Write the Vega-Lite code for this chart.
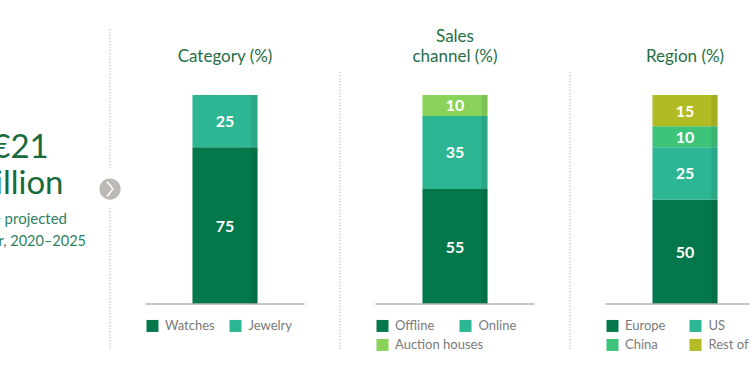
{
  "$schema": "https://vega.github.io/schema/vega-lite/v6.json",
  "width": 750,
  "height": 375,
  "autosize": {"type": "none"},
  "padding": 0,
  "background": "white",
  "config": {"view": {"stroke": null}, "font": "Lato"},
  "datasets": {
    "shares": [
      {"panel": "Category", "label": "Watches", "value": 75, "order": 0},
      {"panel": "Category", "label": "Jewelry", "value": 25, "order": 1},
      {"panel": "Sales", "label": "Offline", "value": 55, "order": 0},
      {"panel": "Sales", "label": "Online", "value": 35, "order": 1},
      {"panel": "Sales", "label": "Auction houses", "value": 10, "order": 2},
      {"panel": "Region", "label": "Europe", "value": 50, "order": 0},
      {"panel": "Region", "label": "US", "value": 25, "order": 1},
      {"panel": "Region", "label": "China", "value": 10, "order": 2},
      {"panel": "Region", "label": "Rest of world", "value": 15, "order": 3}
    ],
    "titles": [
      {"panel": "Category", "title": ["Category (%)"]},
      {"panel": "Sales", "title": ["Sales", "channel (%)"]},
      {"panel": "Region", "title": ["Region (%)"]}
    ],
    "intro": [
      {"panel": "intro", "headline": ["€21", "billion"], "note1": "Value projected", "note2": "per year, 2020–2025"}
    ]
  },
  "encoding": {
    "x": {
      "field": "panel",
      "type": "nominal",
      "scale": {"type": "band", "domain": ["intro", "Category", "Sales", "Region"], "range": [-120, 800], "paddingInner": 0, "paddingOuter": 0},
      "axis": null
    }
  },
  "layer": [
    {
      "data": {"name": "titles"},
      "transform": [{"filter": "datum.panel !== 'Category'"}],
      "mark": {"type": "rule", "stroke": "#b8b8b8", "strokeDash": [1.5, 1.5], "strokeWidth": 1},
      "encoding": {
        "x": {"field": "panel", "type": "nominal", "bandPosition": 0},
        "y": {"datum": 111, "type": "quantitative", "scale": {"domain": [0, 100], "range": [304, 95], "nice": false, "zero": false}, "axis": null},
        "y2": {"datum": -22}
      }
    },
    {
      "data": {"name": "intro"},
      "mark": {"type": "rule", "stroke": "#b8b8b8", "strokeDash": [1.5, 1.5], "strokeWidth": 1},
      "encoding": {
        "x": {"field": "panel", "type": "nominal", "bandPosition": 1},
        "y": {"datum": 131.6, "type": "quantitative", "scale": {"domain": [0, 100], "range": [304, 95], "nice": false, "zero": false}, "axis": null},
        "y2": {"datum": 64.1}
      }
    },
    {
      "data": {"name": "intro"},
      "mark": {"type": "rule", "stroke": "#b8b8b8", "strokeDash": [1.5, 1.5], "strokeWidth": 1},
      "encoding": {
        "x": {"field": "panel", "type": "nominal", "bandPosition": 1},
        "y": {"datum": 45.9, "type": "quantitative", "scale": {"domain": [0, 100], "range": [304, 95], "nice": false, "zero": false}, "axis": null},
        "y2": {"datum": -22}
      }
    },
    {
      "data": {"name": "intro"},
      "mark": {"type": "point", "shape": "circle", "filled": true, "size": 452, "color": "#bdbab6", "opacity": 1},
      "encoding": {
        "x": {"field": "panel", "type": "nominal", "bandPosition": 1},
        "y": {"datum": 55, "type": "quantitative", "scale": {"domain": [0, 100], "range": [304, 95], "nice": false, "zero": false}, "axis": null}
      }
    },
    {
      "data": {"name": "intro"},
      "mark": {"type": "point", "shape": "M -0.4 -1 L 0.4 0 L -0.4 1", "filled": false, "size": 225, "stroke": "white", "strokeWidth": 1.5, "opacity": 1},
      "encoding": {
        "x": {"field": "panel", "type": "nominal", "bandPosition": 1},
        "y": {"datum": 55, "type": "quantitative", "scale": {"domain": [0, 100], "range": [304, 95], "nice": false, "zero": false}, "axis": null}
      }
    },
    {
      "data": {"name": "intro"},
      "mark": {"type": "text", "fontSize": 33, "lineHeight": 36, "align": "center", "baseline": "alphabetic", "dx": -90, "color": "#176b3c"},
      "encoding": {
        "x": {"field": "panel", "type": "nominal", "bandPosition": 1},
        "y": {"datum": 69.86, "type": "quantitative", "scale": {"domain": [0, 100], "range": [304, 95], "nice": false, "zero": false}, "axis": null},
        "text": {"field": "headline"}
      }
    },
    {
      "data": {"name": "intro"},
      "mark": {"type": "text", "fontSize": 15, "align": "right", "baseline": "alphabetic", "dx": -43, "color": "#2f7f62"},
      "encoding": {
        "x": {"field": "panel", "type": "nominal", "bandPosition": 1},
        "y": {"datum": 38.3, "type": "quantitative", "scale": {"domain": [0, 100], "range": [304, 95], "nice": false, "zero": false}, "axis": null},
        "text": {"field": "note1"}
      }
    },
    {
      "data": {"name": "intro"},
      "mark": {"type": "text", "fontSize": 14.5, "align": "right", "baseline": "alphabetic", "dx": -24, "color": "#2f7f62"},
      "encoding": {
        "x": {"field": "panel", "type": "nominal", "bandPosition": 1},
        "y": {"datum": 27.75, "type": "quantitative", "scale": {"domain": [0, 100], "range": [304, 95], "nice": false, "zero": false}, "axis": null},
        "text": {"field": "note2"}
      }
    },
    {
      "data": {"name": "titles"},
      "transform": [{"filter": "datum.panel !== 'Sales'"}],
      "mark": {"type": "text", "fontSize": 17, "lineHeight": 20, "align": "center", "baseline": "bottom", "color": "#1f6e45"},
      "encoding": {
        "y": {"datum": 113.9, "type": "quantitative", "scale": {"domain": [0, 100], "range": [304, 95], "nice": false, "zero": false}, "axis": null},
        "text": {"field": "title"}
      }
    },
    {
      "data": {"name": "titles"},
      "transform": [{"filter": "datum.panel === 'Sales'"}],
      "mark": {"type": "text", "fontSize": 17, "lineHeight": 20, "align": "center", "baseline": "bottom", "color": "#1f6e45"},
      "encoding": {
        "y": {"datum": 123.5, "type": "quantitative", "scale": {"domain": [0, 100], "range": [304, 95], "nice": false, "zero": false}, "axis": null},
        "text": {"field": "title"}
      }
    },
    {
      "data": {"name": "shares"},
      "transform": [
        {"stack": "value", "groupby": ["panel"], "sort": [{"field": "order", "order": "ascending"}], "as": ["y0", "y1"]},
        {"calculate": "(datum.y0 + datum.y1) / 2", "as": "mid"}
      ],
      "layer": [
        {
          "mark": {"type": "bar", "width": {"band": 0.283}},
          "encoding": {
            "y": {"field": "y0", "type": "quantitative", "scale": {"domain": [0, 100], "range": [304, 95], "nice": false, "zero": false}, "axis": null},
            "y2": {"field": "y1"},
            "color": {
              "field": "label",
              "type": "nominal",
              "scale": {
                "domain": ["Watches", "Jewelry", "Offline", "Online", "Auction houses", "Europe", "US", "China", "Rest of world"],
                "range": ["#05784b", "#2db693", "#05784b", "#2db693", "#89d35b", "#05784b", "#2db693", "#3dc47a", "#b2bb24"]
              },
              "legend": null
            }
          }
        },
        {
          "mark": {"type": "bar", "width": 6, "xOffset": 29.5, "color": "black", "opacity": 0.08},
          "encoding": {
            "y": {"field": "y0", "type": "quantitative", "scale": {"domain": [0, 100], "range": [304, 95], "nice": false, "zero": false}, "axis": null},
            "y2": {"field": "y1"}
          }
        },
        {
          "mark": {"type": "text", "fontSize": 16, "fontWeight": "bold", "color": "white", "align": "center", "baseline": "middle", "dy": 1},
          "encoding": {
            "y": {"field": "mid", "type": "quantitative", "scale": {"domain": [0, 100], "range": [304, 95], "nice": false, "zero": false}, "axis": null},
            "text": {"field": "value", "type": "quantitative"}
          }
        }
      ]
    },
    {
      "data": {"name": "titles"},
      "mark": {"type": "tick", "orient": "horizontal", "size": 159, "thickness": 1.5, "color": "#b3b3b3", "opacity": 1},
      "encoding": {
        "y": {"datum": 0, "type": "quantitative", "scale": {"domain": [0, 100], "range": [304, 95], "nice": false, "zero": false}, "axis": null}
      }
    },
    {
      "data": {"name": "shares"},
      "transform": [{"filter": "datum.order === 0"}],
      "layer": [
        {
          "mark": {"type": "point", "shape": "square", "filled": true, "size": 144, "opacity": 1, "xOffset": -72.5},
          "encoding": {
            "y": {"datum": -10.5, "type": "quantitative", "scale": {"domain": [0, 100], "range": [304, 95], "nice": false, "zero": false}, "axis": null},
            "color": {"field": "label", "type": "nominal", "legend": null}
          }
        },
        {
          "mark": {"type": "text", "fontSize": 13, "align": "left", "baseline": "middle", "dx": -60, "color": "#7a7a7a"},
          "encoding": {
            "y": {"datum": -10.5, "type": "quantitative", "scale": {"domain": [0, 100], "range": [304, 95], "nice": false, "zero": false}, "axis": null},
            "text": {"field": "label"}
          }
        }
      ]
    },
    {
      "data": {"name": "shares"},
      "transform": [{"filter": "datum.order === 1"}],
      "layer": [
        {
          "mark": {"type": "point", "shape": "square", "filled": true, "size": 144, "opacity": 1, "xOffset": 10.5},
          "encoding": {
            "y": {"datum": -10.5, "type": "quantitative", "scale": {"domain": [0, 100], "range": [304, 95], "nice": false, "zero": false}, "axis": null},
            "color": {"field": "label", "type": "nominal", "legend": null}
          }
        },
        {
          "mark": {"type": "text", "fontSize": 13, "align": "left", "baseline": "middle", "dx": 23.5, "color": "#7a7a7a"},
          "encoding": {
            "y": {"datum": -10.5, "type": "quantitative", "scale": {"domain": [0, 100], "range": [304, 95], "nice": false, "zero": false}, "axis": null},
            "text": {"field": "label"}
          }
        }
      ]
    },
    {
      "data": {"name": "shares"},
      "transform": [{"filter": "datum.order === 2"}],
      "layer": [
        {
          "mark": {"type": "point", "shape": "square", "filled": true, "size": 144, "opacity": 1, "xOffset": -72.5},
          "encoding": {
            "y": {"datum": -19.6, "type": "quantitative", "scale": {"domain": [0, 100], "range": [304, 95], "nice": false, "zero": false}, "axis": null},
            "color": {"field": "label", "type": "nominal", "legend": null}
          }
        },
        {
          "mark": {"type": "text", "fontSize": 13, "align": "left", "baseline": "middle", "dx": -60, "color": "#7a7a7a"},
          "encoding": {
            "y": {"datum": -19.6, "type": "quantitative", "scale": {"domain": [0, 100], "range": [304, 95], "nice": false, "zero": false}, "axis": null},
            "text": {"field": "label"}
          }
        }
      ]
    },
    {
      "data": {"name": "shares"},
      "transform": [{"filter": "datum.order === 3"}],
      "layer": [
        {
          "mark": {"type": "point", "shape": "square", "filled": true, "size": 144, "opacity": 1, "xOffset": 10.5},
          "encoding": {
            "y": {"datum": -19.6, "type": "quantitative", "scale": {"domain": [0, 100], "range": [304, 95], "nice": false, "zero": false}, "axis": null},
            "color": {"field": "label", "type": "nominal", "legend": null}
          }
        },
        {
          "mark": {"type": "text", "fontSize": 13, "align": "left", "baseline": "middle", "dx": 23.5, "color": "#7a7a7a"},
          "encoding": {
            "y": {"datum": -19.6, "type": "quantitative", "scale": {"domain": [0, 100], "range": [304, 95], "nice": false, "zero": false}, "axis": null},
            "text": {"field": "label"}
          }
        }
      ]
    }
  ]
}
